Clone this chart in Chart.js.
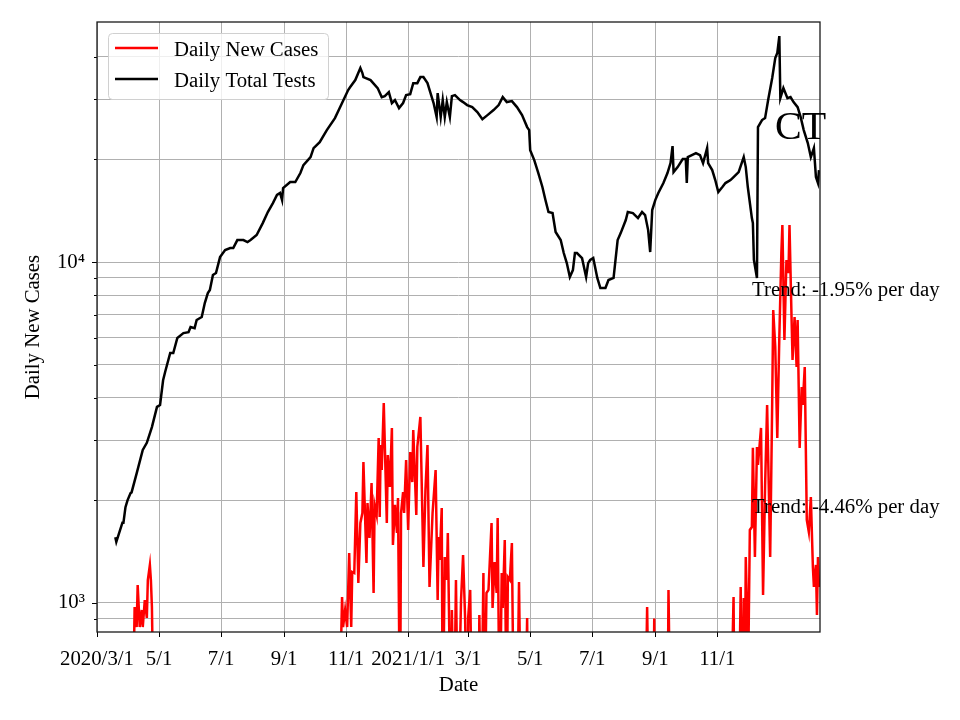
<!DOCTYPE html>
<html>
<head>
<meta charset="utf-8">
<script src="https://cdn.jsdelivr.net/npm/chart.js@4/dist/chart.umd.min.js"></script>
<style>
  html, body { margin: 0; padding: 0; background: #fff; }
  #wrap { width: 960px; height: 720px; }
</style>
</head>
<body>
<div id="wrap"><canvas id="c" width="960" height="720"></canvas></div>
<script>
// x values are days since 2020/3/1
const tickDays = [0, 61, 122, 184, 245, 306, 365, 426, 487, 549, 610];
const tickLabels = ['2020/3/1', '5/1', '7/1', '9/1', '11/1', '2021/1/1', '3/1', '5/1', '7/1', '9/1', '11/1'];
const yTicks = [900, 1000, 2000, 3000, 4000, 5000, 6000, 7000, 8000, 9000, 10000, 20000, 30000, 40000];

// Daily Total Tests (black)
const testDays = [
  18, 19, 25, 26, 28, 30, 33, 34, 39, 45, 49, 54, 59, 62, 65, 67, 72, 75, 79, 85,
  90, 92, 96, 98, 103, 106, 109, 111, 114, 117, 121, 126, 131, 134, 138, 144, 148, 151, 157, 163,
  168, 173, 177, 180, 182, 183, 190, 195, 200, 203, 210, 213, 219, 226, 234, 241, 247, 249, 254, 259,
  261, 262, 269, 276, 280, 283, 287, 290, 293, 297, 301, 304, 308, 311, 315, 318, 321, 325, 328, 331,
  334, 335, 338, 340, 342, 344, 347, 349, 352, 357, 360, 364, 369, 374, 379, 384, 390, 395, 399, 403,
  408, 413, 418, 423, 425, 426, 430, 434, 438, 441, 444, 448, 451, 456, 459, 462, 465, 468, 470, 472,
  477, 481, 483, 485, 488, 492, 495, 500, 503, 508, 512, 515, 520, 522, 527, 532, 536, 539, 542, 544,
  546, 549, 552, 557, 561, 564, 566, 567, 571, 576, 579, 580, 581, 585, 589, 593, 596, 600, 601, 605,
  608, 611, 615, 618, 623, 626, 631, 636, 638, 640, 644, 645, 646, 649, 650, 654, 657, 660, 664, 667,
  669, 671, 672, 675, 679, 682, 685, 689, 692, 695, 699, 702, 705, 707, 709, 710
];
const testValues = [
  1560, 1510, 1720, 1720, 1910, 2000, 2100, 2110, 2400, 2810, 2950, 3280, 3760, 3810, 4500, 4760, 5410, 5410, 5990, 6190,
  6230, 6450, 6400, 6760, 6900, 7580, 8110, 8280, 9160, 9290, 10340, 10840, 10990, 10990, 11600, 11600, 11450, 11600, 12000, 13010,
  14020, 14890, 15730, 15940, 15200, 16480, 17160, 17160, 18240, 19250, 20320, 21590, 22480, 24380, 26440, 29270, 31950, 32600, 34180, 37060,
  35840, 34880, 34180, 32380, 30470, 30680, 31510, 29270, 29870, 28290, 29270, 30880, 31090, 33480, 33480, 34880, 34880, 33480, 31300, 29270,
  26620, 31300, 26620, 29870, 26620, 29460, 26620, 30680, 30880, 29870, 29460, 28870, 28480, 27540, 26260, 26980, 27910, 28870, 30470, 29460,
  29660, 28480, 26980, 24880, 24380, 21300, 19910, 18240, 16600, 15200, 14020, 13920, 12250, 11600, 10630, 9930, 9040, 9470, 10630, 10630,
  10270, 9040, 9930, 10140, 10270, 8980, 8390, 8390, 8860, 8980, 11600, 12160, 13280, 14020, 13920, 13460, 14020, 13730, 12410, 10700,
  14210, 15200, 15940, 17050, 18240, 19510, 21880, 18360, 18990, 20050, 20050, 17050, 20320, 20590, 20870, 20590, 19510, 21590, 19510, 18610,
  17400, 16050, 16600, 17050, 17400, 17760, 18360, 20320, 18990, 16600, 13460, 13010, 10140, 8980, 24880, 26090, 26440, 29870, 34650, 39650,
  41030, 46010, 30260, 32380, 30260, 30470, 29460, 28480, 26620, 24380, 22340, 20320, 21590, 17760, 17050, 18610
];

// Daily New Cases (red); values under the axis floor fall off the bottom of the plot
const caseDays = [
  35, 37, 39, 40, 42, 44, 45, 47, 49, 50, 52, 53, 54, 56,
  238, 241, 242, 244, 246, 248, 250, 251, 253, 255, 257, 259, 261, 262, 265, 266, 268, 270, 272, 273,
  275, 277, 278, 279, 280, 282, 285, 286, 288, 290, 291, 293, 295, 296, 298, 299, 301, 302, 304, 306,
  308, 310, 311, 314, 315, 318, 321, 323, 325, 327, 330, 333, 335, 336, 337, 339, 340, 342, 344, 345,
  348, 349, 351, 353, 355, 358, 360, 362, 364, 365, 367, 369, 375, 376, 378, 380, 381, 383, 385, 388,
  389, 391, 393, 394, 396, 398, 399, 401, 403, 404, 406, 408, 410, 413, 415, 417, 421, 423, 424,
  539, 541, 543, 547, 548, 549, 561, 562, 564,
  623, 626, 627, 631, 633, 635, 636, 637, 638, 639, 640, 642, 644, 645, 647, 649, 650, 653, 655, 657,
  659, 662, 664, 665, 667, 669, 671, 673, 674, 676, 678, 680, 681, 683, 684, 686, 688, 689, 691, 693,
  694, 696, 698, 700, 702, 704, 705, 707, 708, 709, 710
];
const caseValues = [
  400, 973, 850, 1129, 850, 954, 850, 1020, 904, 1168, 1293, 1168, 973, 400,
  400, 1041, 850, 954, 850, 1402, 850, 1233, 1224, 2116, 1144, 1717, 1836, 2591, 1310, 1965, 1551, 2248, 1070, 1939,
  1812, 3047, 1788, 2906, 2455, 3859, 1717, 2716, 2189, 3261, 1480, 1939, 1604, 2032, 400, 1836, 2116, 1836, 2626, 1637,
  2773, 2263, 3217, 1812, 2868, 3512, 1275, 2145, 2906, 1114, 1836, 2455, 1020, 1562, 1337, 1899, 400, 1364, 1168, 1604,
  400, 954, 400, 1168, 400, 1020, 1383, 904, 400, 904, 1092, 400, 400, 922, 400, 1224, 400, 1070, 1092, 1717,
  967, 1319, 1070, 1776, 400, 1224, 967, 1531, 400, 1192, 1168, 1500, 400, 400, 1152, 400, 400, 904, 400,
  400, 973, 400, 400, 900, 400, 400, 1092, 400,
  400, 1041, 400, 400, 1114, 400, 1034, 500, 1364, 1020, 500, 1637, 1670, 2851, 1364, 2868, 2539, 3261, 1055, 2200,
  3807, 1364, 3886, 7231, 5632, 3047, 6026, 10630, 12840, 5906, 10140, 9285, 12840, 6898, 5160, 6898, 4920, 6760, 2851, 4299,
  3807, 4920, 1752, 1615, 2046, 1275, 1114, 1293, 922, 1364, 1114
];

const trendTexts = ['Trend: -1.95% per day', 'Trend: -4.46% per day'];
const stateLabel = 'CT';

const SERIF = '"Liberation Serif", "Times New Roman", "DejaVu Serif", serif';
const FS = 20.8;

function pairs(xs, ys) {
  return xs.map((x, i) => ({ x: x, y: ys[i] }));
}

const overlay = {
  id: 'overlay',
  afterDatasetsDraw(chart) {
    const ctx = chart.ctx;
    const a = chart.chartArea;
    const ys = chart.scales.y;
    ctx.save();
    // y tick marks, long at decades and short between
    ctx.strokeStyle = '#000';
    ctx.lineWidth = 1;
    yTicks.forEach(v => {
      const py = Math.round(ys.getPixelForValue(v)) + 0.5;
      const len = (v === 1000 || v === 10000) ? 5 : 3;
      ctx.beginPath();
      ctx.moveTo(a.left - len, py);
      ctx.lineTo(a.left, py);
      ctx.stroke();
    });
    // frame
    ctx.strokeStyle = '#1a1a1a';
    ctx.lineWidth = 1.3;
    ctx.strokeRect(a.left, a.top, a.right - a.left, a.bottom - a.top);

    // annotations
    ctx.fillStyle = '#000';
    ctx.textBaseline = 'middle';
    ctx.font = FS + 'px ' + SERIF;
    ctx.fillText(trendTexts[0], 752, 291);
    ctx.fillText(trendTexts[1], 752, 508);
    ctx.textBaseline = 'alphabetic';
    ctx.font = '40px ' + SERIF;
    ctx.fillText(stateLabel, 775, 139);

    // legend
    ctx.beginPath();
    ctx.roundRect(108.5, 33.5, 220, 66, 4);
    ctx.fillStyle = 'rgba(255,255,255,0.8)';
    ctx.fill();
    ctx.strokeStyle = '#d0d0d0';
    ctx.lineWidth = 1;
    ctx.stroke();
    const items = [['Daily New Cases', '#ff0000', 48], ['Daily Total Tests', '#000000', 79]];
    items.forEach(([label, color, y]) => {
      ctx.strokeStyle = color;
      ctx.lineWidth = 2.5;
      ctx.beginPath();
      ctx.moveTo(115, y);
      ctx.lineTo(158, y);
      ctx.stroke();
      ctx.fillStyle = '#000';
      ctx.font = FS + 'px ' + SERIF;
      ctx.textBaseline = 'middle';
      ctx.fillText(label, 174, y + 3);
    });
    ctx.restore();
  }
};

new Chart(document.getElementById('c').getContext('2d'), {
  type: 'line',
  data: {
    datasets: [
      { label: 'Daily New Cases', data: pairs(caseDays, caseValues), borderColor: '#ff0000', borderWidth: 2.5, pointRadius: 0, tension: 0, order: 1 },
      { label: 'Daily Total Tests', data: pairs(testDays, testValues), borderColor: '#000000', borderWidth: 2.5, pointRadius: 0, tension: 0, order: 0 }
    ]
  },
  options: {
    responsive: false,
    animation: false,
    devicePixelRatio: 1,
    layout: { padding: { left: 0, right: 140, top: 22, bottom: 0 } },
    plugins: { legend: { display: false }, tooltip: { enabled: false } },
    scales: {
      x: {
        type: 'linear',
        min: 0,
        max: 711,
        afterBuildTicks: s => { s.ticks = tickDays.map(v => ({ value: v })); },
        afterFit: s => { s.height = 88; },
        grid: { color: '#b0b0b0', lineWidth: 1, drawTicks: true, tickLength: 5, tickColor: '#000', tickWidth: 1 },
        border: { display: false },
        ticks: {
          autoSkip: false, maxRotation: 0, padding: 10, color: '#000',
          font: { family: SERIF, size: FS },
          callback: (v) => { const i = tickDays.indexOf(v); return i >= 0 ? tickLabels[i] : ''; }
        },
        title: { display: true, text: 'Date', color: '#000', font: { family: SERIF, size: FS }, padding: { top: 0, bottom: 22 } }
      },
      y: {
        type: 'logarithmic',
        min: 822,
        max: 50600,
        afterBuildTicks: s => { s.ticks = yTicks.map(v => ({ value: v })); },
        afterFit: s => { s.width = 97; s.paddingTop = 0; s.paddingBottom = 0; },
        grid: { color: '#b0b0b0', lineWidth: 1, drawTicks: false },
        border: { display: false },
        ticks: {
          autoSkip: false, padding: 12, color: '#000',
          font: { family: SERIF, size: FS },
          callback: (v) => v === 1000 ? '10\u00b3' : (v === 10000 ? '10\u2074' : '')
        },
        title: { display: true, text: 'Daily New Cases', color: '#000', font: { family: SERIF, size: FS }, padding: { top: 21, bottom: 0 } }
      }
    }
  },
  plugins: [overlay]
});
</script>
</body>
</html>
